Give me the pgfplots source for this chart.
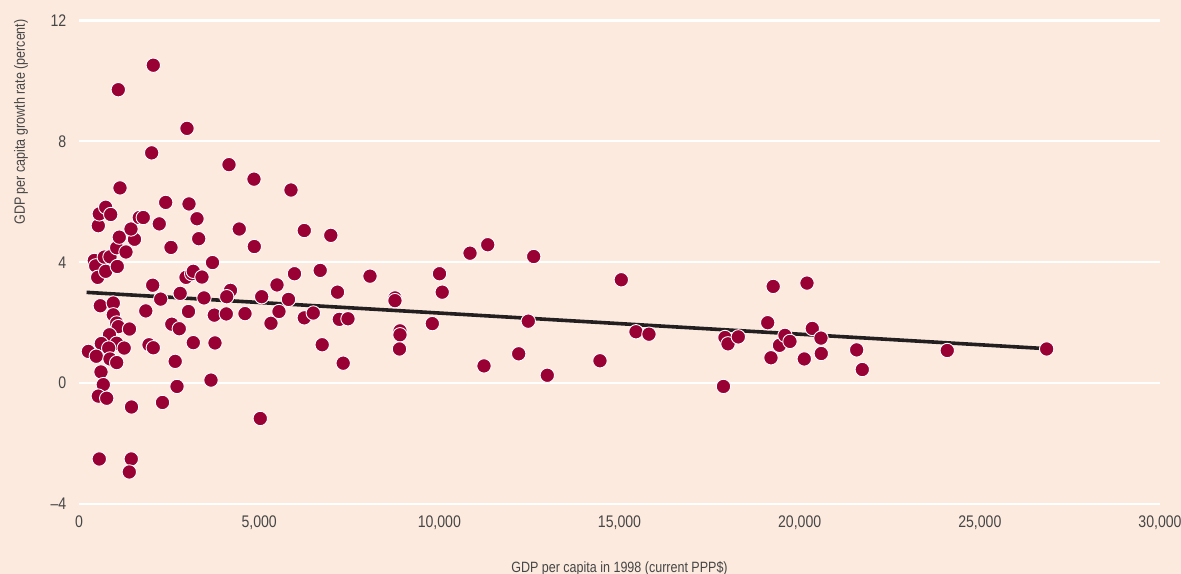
\documentclass[border=0pt]{standalone}
\usepackage{fontspec}
\setmainfont{Liberation Sans}[FakeStretch=0.84]
\usepackage{pgfplots}
\usepackage{pgfplotstable}
\pgfplotsset{compat=1.18}

\definecolor{bgpeach}{RGB}{252,234,222}
\definecolor{dotred}{RGB}{153,0,51}
\definecolor{trendblk}{RGB}{35,31,32}
\definecolor{labgray}{RGB}{70,70,70}

% GDP per capita 1998 (PPP$) vs growth rate (%)
\pgfplotstableread{
x y
260 1.05
425 4.06
463 3.88
519 3.50
536 5.21
563 5.60
741 5.82
880 5.58
702 4.17
860 4.18
741 3.70
1063 3.86
1046 4.48
1304 4.34
1118 4.83
1540 4.76
1443 5.10
1091 9.71
1138 6.46
591 2.56
952 2.65
952 2.26
1046 1.99
1091 1.87
1401 1.79
846 1.60
619 1.31
1046 1.32
824 1.16
1254 1.16
480 0.89
860 0.80
1046 0.68
610 0.37
674 -0.05
536 -0.43
769 -0.50
1457 -0.79
563 -2.51
1451 -2.51
1396 -2.94
1673 5.48
1784 5.48
2062 10.52
2997 8.43
2017 7.62
4163 7.23
4856 6.75
5883 6.39
2406 5.98
3053 5.93
3275 5.44
2228 5.27
4448 5.10
3322 4.78
2553 4.49
4865 4.52
3705 3.99
2969 3.50
3127 3.62
3172 3.70
3413 3.51
2045 3.24
2267 2.78
2808 2.97
3469 2.82
4204 3.07
4099 2.86
5070 2.86
5495 3.25
1854 2.39
3039 2.37
3755 2.25
4088 2.29
4607 2.30
5328 1.98
5550 2.37
5814 2.77
2575 1.95
2783 1.80
1943 1.27
2062 1.17
3172 1.34
3774 1.33
2670 0.72
3663 0.10
2720 -0.11
2317 -0.64
5031 -1.17
5980 3.62
6252 5.05
6988 4.89
6694 3.73
8076 3.54
7174 3.01
6252 2.16
6502 2.32
7224 2.11
7465 2.13
6749 1.27
7332 0.66
8769 2.82
8769 2.73
8908 1.73
8908 1.60
8894 1.13
9805 1.97
10005 3.62
10080 3.01
10852 4.30
11343 4.58
11240 0.57
12202 0.97
12469 2.05
12619 4.19
12996 0.26
15050 3.42
14458 0.74
15457 1.70
15818 1.62
17885 -0.11
17927 1.51
18011 1.30
18297 1.53
19113 2.00
19265 3.20
19204 0.84
19440 1.25
19592 1.58
19731 1.38
20203 3.31
20128 0.80
20350 1.81
20591 1.49
20600 0.98
21582 1.10
21738 0.45
24096 1.08
26854 1.13
}\growthdata

\begin{document}
\begin{tikzpicture}
\fill[bgpeach] (-39.5bp,-35bp) rectangle (551bp,252bp);
\begin{axis}[
  scale only axis,
  width=540.5bp, height=241.75bp,
  xmin=0, xmax=30000, ymin=-4, ymax=12,
  axis line style={draw=none},
  major tick length=0pt,
  scaled x ticks=false, scaled y ticks=false,
  xtick={0,5000,10000,15000,20000,25000,30000},
  xticklabels={0,{5,000},{10,000},{15,000},{20,000},{25,000},{30,000}},
  ytick={-4,0,4,8,12},
  yticklabels={–4,0,4,8,12},
  ymajorgrids,
  grid style={white, line width=1.1bp},
  tick label style={font=\fontsize{8.4bp}{9bp}\selectfont, text=labgray, inner sep=0pt},
  xticklabel style={anchor=north, yshift=-5.5bp},
  yticklabel style={anchor=east, xshift=-6.2bp},
  label style={font=\fontsize{7.45bp}{8.5bp}\selectfont, text=labgray, inner sep=0pt},
  xlabel={GDP per capita in 1998 (current PPP\$)},
  ylabel={GDP per capita growth rate (percent)},
  xlabel style={at={(axis description cs:0.5,-0.1427)}, anchor=base},
  ylabel style={at={(axis description cs:-0.04995,0.577)}, anchor=base west},
  clip=false,
]
\addplot[only marks, mark=*, mark size=3.6bp,
  mark options={fill=dotred, draw=white, line width=0.45bp}]
  table[x=x, y=y] {\growthdata};
\addplot[trendblk, line width=1.8bp, line cap=rect] coordinates {(260,3.00) (26854,1.14)};
\end{axis}
\pgfresetboundingbox
\path[use as bounding box] (-39.5bp,-35bp) rectangle (551bp,252bp);
\end{tikzpicture}
\end{document}
